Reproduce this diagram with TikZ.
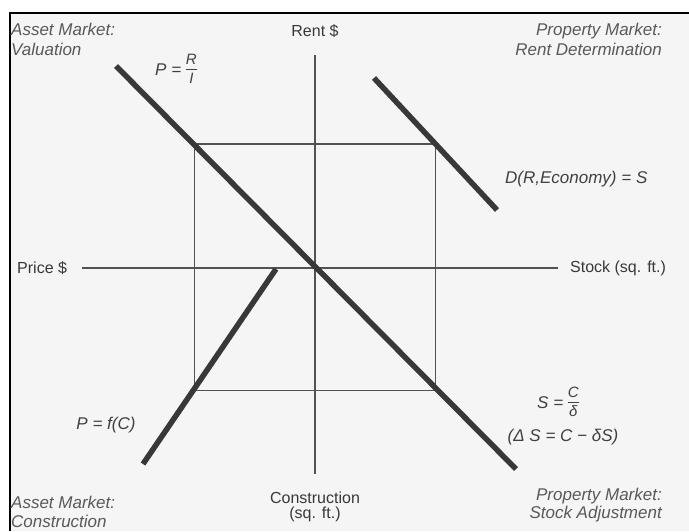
\documentclass[tikz,border=0pt]{standalone}
\usepackage{fontspec}
\setmainfont{Liberation Sans}
\newcommand{\sfr}[2]{$\vcenter{\hbox{\fontsize{15}{15}\selectfont\itshape\renewcommand{\arraystretch}{0.9}\setlength{\arrayrulewidth}{0.9pt}\begin{tabular}{@{}c@{}}#1\\\hline\rule{0pt}{13.5pt}#2\end{tabular}}}$}
\begin{document}
\begin{tikzpicture}[x=1pt,y=-1pt,
  corner/.style={inner sep=0pt, text=black!65, font=\fontsize{17}{20}\selectfont\itshape},
  axlabel/.style={inner sep=0pt, text=black!78, font=\fontsize{16}{18}\selectfont},
  formula/.style={inner sep=0pt, text=black!75, font=\fontsize{17}{20}\selectfont\itshape},
  thinline/.style={draw=black!68, line width=1.4pt},
  curve/.style={draw=black!78, line width=5.5pt},
]
\useasboundingbox (0,0) rectangle (689,531);
\fill[white] (0,0) rectangle (689,531);
\fill[black!4!white] (10,12.5) rectangle (689,531);
\draw[black, line width=2pt] (10,531) -- (10,12.5) -- (689,12.5);

% coordinates
\coordinate (vtop) at (315,55);
\coordinate (vbot) at (315,474);
\coordinate (hl) at (82,268);
\coordinate (hr) at (558,268);
\coordinate (r1) at (194.5,144);
\coordinate (r2) at (435.5,144);
\coordinate (r3) at (435.5,390.5);
\coordinate (r4) at (194.5,390.5);
\coordinate (d1) at (116,66);
\coordinate (d2) at (516,469);
\coordinate (e1) at (374,78);
\coordinate (e2) at (497,210);
\coordinate (f1) at (276,269);
\coordinate (f2) at (143,464);

% axes and rectangle
\draw[thinline] (vtop) -- (vbot);
\draw[thinline] (hl) -- (hr);
\draw[thinline] (r1) -- (r2) -- (r3) -- (r4) -- cycle;

% curves
\draw[curve] (d1) -- (d2);
\draw[curve] (e1) -- (e2);
\draw[curve] (f1) -- (f2);

% corner labels
\node[corner, anchor=base west] (tl1) at (11,35) {Asset Market:};
\node[corner, anchor=base west] (tl2) at (11,55) {Valuation};
\node[corner, anchor=base east] (tr1) at (662,35) {Property Market:};
\node[corner, anchor=base east] (tr2) at (662,55) {Rent Determination};
\node[corner, anchor=base west] (bl1) at (11,508) {Asset Market:};
\node[corner, anchor=base west] (bl2) at (11,527) {Construction};
\node[corner, anchor=base east] (br1) at (662,500) {Property Market:};
\node[corner, anchor=base east] (br2) at (662,518) {Stock Adjustment};

% axis labels
\node[axlabel, anchor=base] (rent) at (315,36) {Rent \$};
\node[axlabel, anchor=west] (price) at (17,268) {Price \$};
\node[axlabel, anchor=west] (stock) at (570,268) {Stock (sq. ft.)};
\node[axlabel, anchor=base] (constr1) at (315,503) {Construction};
\node[axlabel, anchor=base] (constr2) at (315,518) {(sq. ft.)};

% formulas
\node[formula] (pri) at (176,71) {P = \sfr{R}{I}};
\node[formula, anchor=west] (dre) at (505,179) {D(R,Economy) = S};
\node[formula] (scd) at (558,404) {S = \sfr{C}{δ}};
\node[formula] (dss) at (563,437) {(Δ S = C − δS)};
\node[formula] (pfc) at (106,425) {P = f(C)};
\end{tikzpicture}
\end{document}
